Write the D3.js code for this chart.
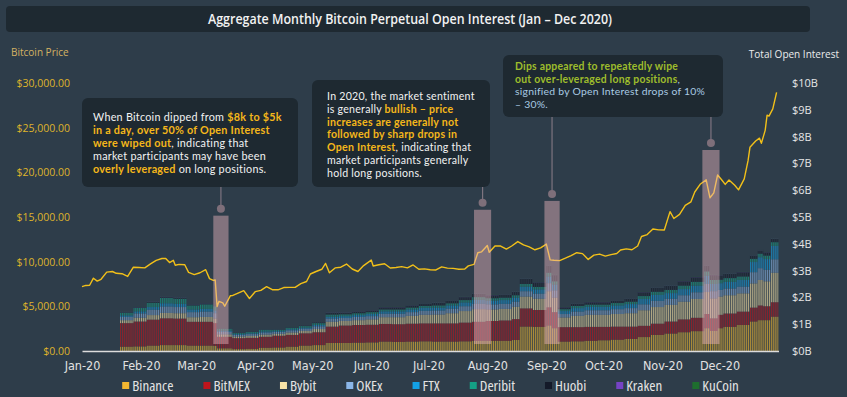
<!DOCTYPE html>
<html>
<head>
<meta charset="utf-8">
<script src="https://cdn.jsdelivr.net/npm/d3@7"></script>
<style>
  body { margin: 0; background: #2e3d4a; }
  svg { display: block; }
  text { font-family: "Open Sans", "Noto Sans", sans-serif; }
  .narrow { font-family: "Liberation Sans Narrow", "DejaVu Sans Condensed", "Roboto", sans-serif; font-stretch: condensed; }
  .note { font-family: Lato, "Open Sans", sans-serif; letter-spacing: 0.25px; }
</style>
</head>
<body>
<div id="chart"></div>
<script>
// exchanges, bottom of the stack first
const exchanges = ["Binance", "BitMEX", "Bybit", "OKEx", "FTX", "Deribit", "Huobi", "Kraken", "KuCoin"];
const exchangeColors = ["#f3b731", "#c0141c", "#f7e2a6", "#8ab6e8", "#13a1e6", "#14a085", "#141a29", "#7543c4", "#1e6e2e"];

// open interest in $B, one bar per date (each bar runs until the next date)
const oiDates = ["2020-01-21","2020-01-28","2020-02-04","2020-02-11","2020-02-18","2020-02-25","2020-03-03","2020-03-10","2020-03-12","2020-03-20",
  "2020-03-27","2020-04-03","2020-04-10","2020-04-17","2020-04-24","2020-05-01","2020-05-08","2020-05-15","2020-05-22","2020-05-29",
  "2020-06-05","2020-06-12","2020-06-19","2020-06-26","2020-07-03","2020-07-10","2020-07-17","2020-07-24","2020-07-31","2020-08-07",
  "2020-08-14","2020-08-18","2020-08-25","2020-09-01","2020-09-04","2020-09-07","2020-09-14","2020-09-21","2020-09-28","2020-10-05",
  "2020-10-12","2020-10-19","2020-10-26","2020-11-02","2020-11-09","2020-11-16","2020-11-23","2020-11-26","2020-11-30","2020-12-03",
  "2020-12-10","2020-12-17","2020-12-21","2020-12-24","2020-12-28"];
const oiEnd = "2021-01-01";

const binance = [0.16,0.17,0.2,0.22,0.22, 0.2,0.2,0.19,0.1,0.07, 0.08,0.12,0.13,0.16,0.2, 0.22,0.3,0.3,0.31,0.32,
  0.35,0.34,0.35,0.36,0.35, 0.35,0.36,0.38,0.38,0.38, 0.41,0.91,0.9,0.95,0.85, 0.35,0.36,0.38,0.4,0.42,
  0.45,0.52,0.6,0.65,0.7, 0.74,0.85,0.75,0.85,0.9, 0.97,1.1,1.15,1.15,1.28];
const bitmex = [0.88,0.93,0.97,1.0,0.99, 0.89,0.89,0.85,0.43,0.41, 0.41,0.41,0.44,0.44,0.46, 0.48,0.61,0.65,0.66,0.66,
  0.66,0.66,0.67,0.67,0.68, 0.68,0.7,0.71,0.74,0.76, 0.78,0.68,0.63,0.68,0.6, 0.54,0.53,0.52,0.5,0.49,
  0.46,0.42,0.42,0.45,0.48, 0.5,0.53,0.47,0.5,0.5, 0.5,0.52,0.55,0.52,0.54];
const bybit = [0.11,0.14,0.17,0.2,0.2, 0.17,0.18,0.17,0.09,0.06, 0.07,0.08,0.07,0.09,0.09, 0.12,0.18,0.17,0.18,0.2,
  0.25,0.26,0.29,0.32,0.33, 0.38,0.43,0.47,0.43,0.43, 0.46,0.44,0.42,0.6,0.54, 0.36,0.42,0.45,0.45,0.47,
  0.5,0.58,0.62,0.62,0.66, 0.7,0.82,0.74,0.68,0.68, 0.68,0.9,0.95,0.93,1.1];
const okex = [0.12,0.16,0.2,0.24,0.23, 0.19,0.2,0.2,0.09,0.06, 0.07,0.08,0.07,0.08,0.08, 0.1,0.12,0.11,0.12,0.12,
  0.13,0.13,0.14,0.15,0.15, 0.17,0.18,0.2,0.19,0.19, 0.19,0.2,0.19,0.3,0.27, 0.13,0.16,0.17,0.17,0.18,
  0.19,0.22,0.23,0.23,0.24, 0.25,0.3,0.27,0.25,0.25, 0.25,0.42,0.44,0.43,0.5];
const ftx = [0.06,0.08,0.1,0.12,0.12, 0.1,0.1,0.1,0.05,0.03, 0.03,0.04,0.03,0.04,0.04, 0.05,0.07,0.07,0.07,0.08,
  0.09,0.09,0.1,0.11,0.11, 0.12,0.14,0.15,0.14,0.14, 0.15,0.17,0.16,0.25,0.22, 0.11,0.13,0.13,0.13,0.14,
  0.15,0.2,0.22,0.21,0.23, 0.25,0.31,0.27,0.25,0.25, 0.25,0.38,0.41,0.4,0.5];
const deribit = [0.1,0.13,0.16,0.2,0.19, 0.15,0.17,0.16,0.07,0.04, 0.05,0.06,0.05,0.06,0.06, 0.07,0.08,0.07,0.07,0.07,
  0.07,0.07,0.07,0.07,0.08, 0.08,0.09,0.1,0.09,0.09, 0.09,0.1,0.09,0.14,0.12, 0.07,0.08,0.08,0.08,0.09,
  0.09,0.11,0.12,0.12,0.13, 0.14,0.16,0.15,0.13,0.14, 0.13,0.12,0.13,0.13,0.14];
const huobi = [0.02,0.02,0.03,0.03,0.03, 0.03,0.03,0.03,0.01,0.01, 0.01,0.01,0.01,0.02,0.02, 0.03,0.06,0.05,0.06,0.06,
  0.08,0.08,0.08,0.09,0.09, 0.1,0.11,0.12,0.11,0.11, 0.12,0.19,0.17,0.26,0.23, 0.07,0.08,0.09,0.09,0.09,
  0.11,0.14,0.15,0.15,0.16, 0.17,0.21,0.18,0.16,0.16, 0.16,0.12,0.12,0.12,0.12];
const kraken = [0.01,0.01,0.01,0.01,0.01, 0.01,0.01,0.01,0.005,0.005, 0.005,0.005,0.005,0.005,0.005, 0.005,0.01,0.01,0.01,0.01,
  0.01,0.01,0.01,0.01,0.01, 0.01,0.01,0.01,0.01,0.01, 0.01,0.01,0.01,0.01,0.01, 0.01,0.01,0.01,0.01,0.01,
  0.01,0.01,0.01,0.01,0.01, 0.01,0.01,0.01,0.01,0.01, 0.01,0.01,0.01,0.01,0.01];
const kucoin = [0.005,0.005,0.005,0.005,0.005, 0.005,0.005,0.005,0.005,0.005, 0.005,0.005,0.005,0.005,0.005, 0.005,0.005,0.005,0.005,0.005,
  0.01,0.01,0.01,0.01,0.01, 0.01,0.01,0.01,0.01,0.01, 0.01,0.01,0.01,0.01,0.01, 0.01,0.01,0.01,0.01,0.01,
  0.01,0.01,0.01,0.01,0.01, 0.01,0.01,0.01,0.01,0.01, 0.01,0.01,0.01,0.01,0.01];

// bitcoin price (USD)
const priceDates = ["2020-01-01","2020-01-03","2020-01-05","2020-01-07","2020-01-09","2020-01-11","2020-01-14","2020-01-17","2020-01-19","2020-01-22",
  "2020-01-25","2020-01-28","2020-01-31","2020-02-03","2020-02-06","2020-02-09","2020-02-12","2020-02-14","2020-02-16","2020-02-18",
  "2020-02-19","2020-02-21","2020-02-24","2020-02-26","2020-02-29","2020-03-03","2020-03-06","2020-03-08","2020-03-10","2020-03-11",
  "2020-03-12","2020-03-13","2020-03-15","2020-03-16","2020-03-19","2020-03-20","2020-03-23","2020-03-26","2020-03-29","2020-04-01",
  "2020-04-04","2020-04-07","2020-04-10","2020-04-13","2020-04-16","2020-04-19","2020-04-22","2020-04-25","2020-04-28","2020-04-30",
  "2020-05-03","2020-05-06","2020-05-08","2020-05-10","2020-05-13","2020-05-16","2020-05-19","2020-05-22","2020-05-25","2020-05-28",
  "2020-06-01","2020-06-02","2020-06-05","2020-06-08","2020-06-11","2020-06-14","2020-06-17","2020-06-20","2020-06-23","2020-06-26",
  "2020-06-29","2020-07-02","2020-07-05","2020-07-08","2020-07-11","2020-07-14","2020-07-17","2020-07-20","2020-07-22","2020-07-25",
  "2020-07-27","2020-07-29","2020-08-01","2020-08-02","2020-08-05","2020-08-08","2020-08-11","2020-08-14","2020-08-17","2020-08-20",
  "2020-08-23","2020-08-26","2020-08-29","2020-09-01","2020-09-03","2020-09-05","2020-09-08","2020-09-11","2020-09-14","2020-09-17",
  "2020-09-20","2020-09-23","2020-09-26","2020-09-29","2020-10-02","2020-10-05","2020-10-08","2020-10-10","2020-10-13","2020-10-16",
  "2020-10-19","2020-10-21","2020-10-24","2020-10-27","2020-10-30","2020-11-02","2020-11-05","2020-11-07","2020-11-10","2020-11-13",
  "2020-11-16","2020-11-18","2020-11-21","2020-11-24","2020-11-26","2020-11-28","2020-11-30","2020-12-02","2020-12-04","2020-12-06",
  "2020-12-09","2020-12-11","2020-12-14","2020-12-16","2020-12-17","2020-12-20","2020-12-22","2020-12-23","2020-12-25","2020-12-26",
  "2020-12-27","2020-12-29","2020-12-31"];
const priceValues = [7200,7340,7360,8150,7820,8030,8830,8900,8700,8650,
  8350,9380,9350,9300,9750,10150,10350,10360,9900,10150,
  9600,9700,9650,8800,8550,8760,9100,8100,7900,7950,
  4970,5560,5390,5010,6190,6200,6480,6760,5880,6640,
  6780,7200,6860,6850,7100,7120,7130,7550,7780,8620,
  8900,9150,9800,8750,9300,9380,9730,9180,8900,9560,
  10180,9520,9650,9770,9290,9340,9440,9300,9630,9150,
  9190,9090,9070,9420,9280,9250,9150,9160,9530,9700,
  11000,11100,11800,11050,11750,11750,11400,11780,12250,11870,
  11650,11330,11540,11970,10200,10160,10120,10390,10680,11000,
  10900,10250,10730,10850,10620,10790,10920,11300,11430,11330,
  11750,12820,13030,13650,13560,13550,15600,14830,15300,16300,
  16700,17800,18700,19160,17150,17700,19700,19200,18650,19150,
  18550,18040,19270,21300,22800,23500,23830,23250,24700,26400,
  26300,27100,28950];

const priceTicks = [0, 5000, 10000, 15000, 20000, 25000, 30000];
const oiTicks = [0, 1, 2, 3, 4, 5, 6, 7, 8, 9, 10];

// highlighted dips: date range, top of the band ($B), which note it points to
const dipStarts = ["2020-03-10", "2020-07-25", "2020-08-31", "2020-11-22"];
const dipEnds = ["2020-03-18", "2020-08-03", "2020-09-08", "2020-12-01"];
const dipTops = [5.05, 5.27, 5.6, 7.5];
const dipNote = [0, 1, 2, 2];

const parse = d3.timeParse("%Y-%m-%d");
const W = 847, H = 397;
const x0 = 82, x1 = 778.5, yBase = 351, yTop = 83;

const svg = d3.select("#chart").append("svg").attr("width", W).attr("height", H);
svg.append("rect").attr("width", W).attr("height", H).attr("fill", "#2e3d4a");

// title bar
svg.append("rect").attr("x", 6).attr("y", 6).attr("width", 804).attr("height", 26).attr("rx", 4).attr("fill", "#1e2931");
svg.append("text").attr("x", 410).attr("y", 24).attr("text-anchor", "middle")
  .attr("fill", "#f2f2f2").attr("font-size", 14).attr("font-weight", 600)
  .attr("textLength", 404).attr("lengthAdjust", "spacingAndGlyphs")
  .text("Aggregate Monthly Bitcoin Perpetual Open Interest (Jan – Dec 2020)");

const x = d3.scaleTime().domain([parse("2020-01-01"), parse("2021-01-01")]).range([x0, x1]);
const yPrice = d3.scaleLinear().domain([0, 30000]).range([yBase, yTop]);
const yOI = d3.scaleLinear().domain([0, 10]).range([yBase, yTop]);

// stacked open interest
const seriesValues = [binance, bitmex, bybit, okex, ftx, deribit, huobi, kraken, kucoin];
const table = oiDates.map((d, i) => {
  const row = { date: parse(d), next: parse(i + 1 < oiDates.length ? oiDates[i + 1] : oiEnd) };
  exchanges.forEach((e, k) => row[e] = seriesValues[k][i]);
  return row;
});
const stacked = d3.stack().keys(exchanges)(table);

// daily stripes
const dayW = x(parse("2020-01-02")) - x(parse("2020-01-01"));
const defs = svg.append("defs");
defs.append("pattern").attr("id", "stripes").attr("patternUnits", "userSpaceOnUse")
  .attr("x", x0).attr("y", 0).attr("width", dayW).attr("height", H)
  .append("rect").attr("width", dayW * 0.6).attr("height", H).attr("fill", "#fff");
defs.append("mask").attr("id", "stripeMask").attr("maskUnits", "userSpaceOnUse")
  .attr("x", 0).attr("y", 0).attr("width", W).attr("height", H)
  .append("rect").attr("width", W).attr("height", H).attr("fill", "url(#stripes)");

const bars = svg.append("g").attr("mask", "url(#stripeMask)");
bars.selectAll("g")
  .data(stacked)
  .join("g")
  .attr("fill", (d, i) => exchangeColors[i])
  .attr("fill-opacity", 0.66)
  .selectAll("rect")
  .data(d => d)
  .join("rect")
  .attr("x", d => x(d.data.date))
  .attr("width", d => x(d.data.next) - x(d.data.date))
  .attr("y", d => yOI(d[1]))
  .attr("height", d => yOI(d[0]) - yOI(d[1]));

// axes
const xAxis = svg.append("g").attr("transform", `translate(0,${yBase})`)
  .call(d3.axisBottom(x)
    .tickValues(d3.timeMonth.range(parse("2020-01-01"), parse("2021-01-01")))
    .tickFormat(d3.timeFormat("%b-%y"))
    .tickSize(0).tickPadding(10));
xAxis.select(".domain").attr("stroke", "#dcdcdc").attr("stroke-width", 1.5);
xAxis.selectAll("text").attr("class", "narrow").attr("font-size", 12.5).attr("fill", "#e2e2e2");

const leftAxis = svg.append("g").attr("transform", `translate(74,0)`)
  .call(d3.axisLeft(yPrice).tickValues(priceTicks).tickFormat(d => "$" + d3.format(",.2f")(d)).tickSize(0).tickPadding(4));
leftAxis.select(".domain").remove();
leftAxis.selectAll("text").attr("font-size", 10.5).attr("fill", "#dfb42a").style("font-family", "'Open Sans'");

const rightAxis = svg.append("g").attr("transform", `translate(788,0)`)
  .call(d3.axisRight(yOI).tickValues(oiTicks).tickFormat(d => `$${d}B`).tickSize(0).tickPadding(4));
rightAxis.select(".domain").remove();
rightAxis.selectAll("text").attr("font-size", 11).attr("fill", "#e6e6e6").style("font-family", "'Open Sans'");

svg.append("text").attr("x", 11).attr("y", 56).attr("font-size", 10).attr("fill", "#d4b263").text("Bitcoin Price");
svg.append("text").attr("x", 839).attr("y", 58).attr("text-anchor", "end").attr("font-size", 10).attr("fill", "#ececec").text("Total Open Interest");

// price line
const priceData = priceDates.map((d, i) => ({ date: parse(d), value: priceValues[i] }));
svg.append("path").datum(priceData)
  .attr("fill", "none").attr("stroke", "#f2c019").attr("stroke-width", 1.4).attr("stroke-linejoin", "round")
  .attr("d", d3.line().x(d => x(d.date)).y(d => yPrice(d.value)));

// notes
const notes = [
  { x: 82, y: 98, w: 216, h: 89, tx: 93, ty: 121, step: 13, size: 10.8, lines: [
    [["When Bitcoin dipped from ", 0], ["$8k to $5k", 1]],
    [["in a day, over 50% of Open Interest", 1]],
    [["were wiped out", 1], [", indicating that", 0]],
    [["market participants may have been", 0]],
    [["overly leveraged", 1], [" on long positions.", 0]]
  ]},
  { x: 312, y: 80, w: 178, h: 107, tx: 327, ty: 100, step: 12.8, size: 10.6, lines: [
    [["In 2020, the market sentiment", 0]],
    [["is generally ", 0], ["bullish – price", 1]],
    [["increases are generally not", 1]],
    [["followed by sharp drops in", 1]],
    [["Open Interest", 1], [", indicating that", 0]],
    [["market participants generally", 0]],
    [["hold long positions.", 0]]
  ]},
  { x: 503, y: 55, w: 220, h: 62, tx: 515, ty: 70, step: 12.5, size: 10.4, lines: [
    [["Dips appeared to repeatedly wipe", 2]],
    [["out over-leveraged long positions", 2], [",", 3]],
    [["signified by Open Interest drops of 10%", 3]],
    [["– 30%.", 3]]
  ]}
];
const segFill = ["#f2f2f2", "#f5b71a", "#9ebd2c", "#a9cbe4"];

// dip bands and connectors
const dips = dipStarts.map((s, i) => ({ x0: x(parse(s)), x1: x(parse(dipEnds[i])), top: yOI(dipTops[i]), note: notes[dipNote[i]] }));
svg.append("g").selectAll("rect").data(dips).join("rect")
  .attr("x", d => d.x0).attr("width", d => d.x1 - d.x0)
  .attr("y", d => d.top).attr("height", d => yOI(0.26) - d.top)
  .attr("fill", "#eab6be").attr("fill-opacity", 0.45);
svg.append("g").selectAll("line").data(dips).join("line")
  .attr("x1", d => (d.x0 + d.x1) / 2).attr("x2", d => (d.x0 + d.x1) / 2)
  .attr("y1", d => d.note.y + d.note.h).attr("y2", d => d.top - 7)
  .attr("stroke", "#7e7480").attr("stroke-width", 1.2);
svg.append("g").selectAll("circle").data(dips).join("circle")
  .attr("cx", d => (d.x0 + d.x1) / 2).attr("cy", d => d.top - 7).attr("r", 4)
  .attr("fill", "#7e6f7a");

// each note is one text block, one line per row of tspans
notes.forEach(n => {
  svg.append("rect").attr("x", n.x).attr("y", n.y).attr("width", n.w).attr("height", n.h)
    .attr("rx", 6).attr("fill", "#1e2931");
  const t = svg.append("text").attr("class", "note").attr("x", n.tx).attr("y", n.ty).attr("font-size", n.size);
  n.lines.forEach((segs, li) => {
    segs.forEach(([s, k], si) => {
      const ts = t.append("tspan").text(s).attr("fill", segFill[k])
        .attr("font-weight", (k === 1 || k === 2) ? 700 : 400);
      if (si === 0) ts.attr("x", n.tx).attr("y", n.ty + li * n.step);
    });
  });
});

// legend
const legend = svg.append("g").attr("class", "narrow");
let lx = 0;
exchanges.forEach((e, i) => {
  const g = legend.append("g").attr("transform", `translate(${lx},0)`);
  g.append("rect").attr("x", 0).attr("y", -4).attr("width", 7).attr("height", 7).attr("fill", exchangeColors[i]);
  const t = g.append("text").attr("x", 10).attr("y", 5).attr("font-size", 15).attr("fill", "#e4e4e4").text(e);
  lx += 10 + t.node().getComputedTextLength() + 30;
});
const legendW = lx - 30;
legend.attr("transform", `translate(${(x0 + 779) / 2 - legendW / 2},386)`);
</script>
</body>
</html>
